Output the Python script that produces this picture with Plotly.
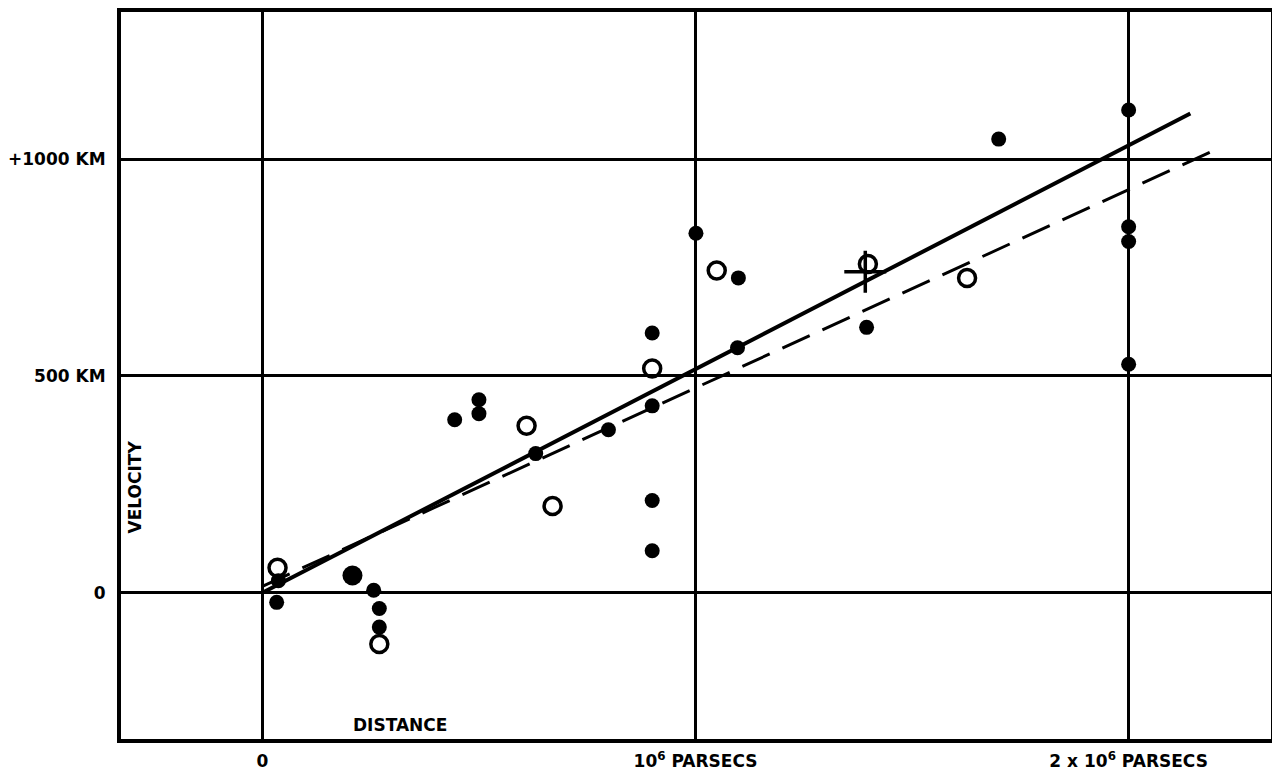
import plotly.graph_objects as go

# distances in units of 10^6 parsecs, velocities in km/s
filled_dist = [0.033, 0.037, 0.257, 0.270, 0.270, 0.444, 0.500, 0.500, 0.631, 0.799,
               0.900, 0.900, 0.900, 0.900, 1.001, 1.099, 1.097, 1.395, 1.700,
               2.000, 2.000, 2.000, 2.000]
filled_vel = [-22, 28, 6, -36, -79, 399, 445, 413, 321, 376,
              431, 213, 97, 599, 829, 726, 565, 612, 1046,
              1113, 844, 810, 527]

big_dist = [0.208]
big_vel = [40]

open_dist = [0.035, 0.270, 0.610, 0.670, 0.900, 1.049, 1.398, 1.627]
open_vel = [58, -118, 385, 200, 517, 743, 758, 726]

cross_dist = [1.392]
cross_vel = [740]

solid_dist = [0.0, 2.1425]
solid_vel = [0, 1105]
dashed_dist = [0.0, 2.204]
dashed_vel = [15, 1023]

x_ticks = [0, 1, 2]
x_labels = ["0", "10<sup>6</sup> PARSECS", "2 x 10<sup>6</sup> PARSECS"]
y_ticks = [0, 500, 1000]
y_labels = ["0", "500 KM", "+1000 KM"]

FONT = "DejaVu Sans"
bold = dict(family=FONT, size=17, color="black", weight="bold")

fig = go.Figure()
fig.add_trace(go.Scatter(x=solid_dist, y=solid_vel, mode="lines",
                         line=dict(color="black", width=4)))
fig.add_trace(go.Scatter(x=dashed_dist, y=dashed_vel, mode="lines",
                         line=dict(color="black", width=3, dash="30px,14px")))
fig.add_trace(go.Scatter(x=filled_dist, y=filled_vel, mode="markers",
                         marker=dict(color="black", size=15, line=dict(width=0))))
fig.add_trace(go.Scatter(x=big_dist, y=big_vel, mode="markers",
                         marker=dict(color="black", size=20, line=dict(width=0))))
fig.add_trace(go.Scatter(x=open_dist, y=open_vel, mode="markers",
                         marker=dict(symbol="circle-open", color="black", size=17,
                                     line=dict(width=3.5, color="black"))))
fig.add_trace(go.Scatter(x=cross_dist, y=cross_vel, mode="markers",
                         marker=dict(symbol="cross-thin", size=30,
                                     line=dict(width=3.5, color="black"))))

fig.add_annotation(x=-0.294, y=243, xref="x", yref="y", text="VELOCITY", textangle=-90,
                   showarrow=False, font=bold)
fig.add_annotation(x=0.317, y=-305, xref="x", yref="y", text="DISTANCE",
                   showarrow=False, font=bold)

fig.update_xaxes(range=[-0.3264, 2.3287], tickvals=x_ticks, ticktext=x_labels,
                 showgrid=True, gridcolor="black", gridwidth=2.5, zeroline=False,
                 showline=True, linecolor="black", linewidth=4, mirror=True,
                 ticks="", ticklabelstandoff=4, tickfont=bold)
fig.update_yaxes(range=[-337, 1339], tickvals=y_ticks, ticktext=y_labels,
                 showgrid=True, gridcolor="black", gridwidth=2.5, zeroline=False,
                 showline=True, linecolor="black", linewidth=4, mirror=True,
                 ticks="", ticklabelstandoff=8, tickfont=bold)

# the page body adds an 8px margin, so the figure is sized to fit inside it
fig.update_layout(width=1272, height=764, showlegend=False,
                  plot_bgcolor="white", paper_bgcolor="white",
                  margin=dict(l=108, r=9, t=0, b=33))

fig.write_html("out.html")
